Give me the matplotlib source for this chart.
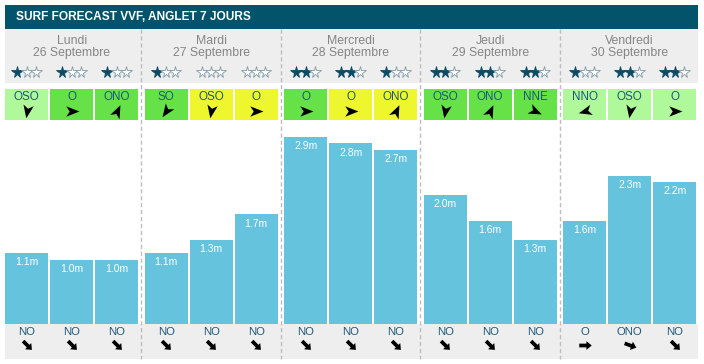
import matplotlib
matplotlib.use("Agg")
import matplotlib.pyplot as plt
from matplotlib.patches import Rectangle
from matplotlib.path import Path
from matplotlib.markers import MarkerStyle
from matplotlib.transforms import Affine2D

plt.rcParams['font.family'] = ['Liberation Sans', 'DejaVu Sans']

title = "SURF FORECAST VVF, ANGLET 7 JOURS"
days = ["Lundi", "Mardi", "Mercredi", "Jeudi", "Vendredi"]
dates = ["26 Septembre", "27 Septembre", "28 Septembre", "29 Septembre", "30 Septembre"]
stars = [[1, 1, 1], [1, 0, 0], [2, 2, 1], [2, 2, 2], [1, 2, 2]]
wind_dir = [["OSO", "O", "ONO"], ["SO", "OSO", "O"], ["O", "O", "ONO"],
            ["OSO", "ONO", "NNE"], ["NNO", "OSO", "O"]]
wind_level = [[0, 1, 1], [1, 2, 2], [1, 2, 2], [1, 1, 1], [0, 0, 0]]
wind_angle = [[-100, 0, 65], [-125, -100, 0], [0, 0, 65],
              [-100, 65, -25], [195, -100, 0]]
wave_height = [[1.1, 1.0, 1.0], [1.1, 1.3, 1.7], [2.9, 2.8, 2.7],
               [2.0, 1.6, 1.3], [1.6, 2.3, 2.2]]
swell_dir = [["NO", "NO", "NO"], ["NO", "NO", "NO"], ["NO", "NO", "NO"],
             ["NO", "NO", "NO"], ["O", "ONO", "NO"]]
swell_angle = {"NO": -45, "O": 0, "ONO": -20}

# ---- styling ----
TEAL = "#03546a"
GREY_BG = "#eeeeee"
BAR = "#65c3de"
TXT_BLUE = "#1f5878"
DAY_TXT = "#858585"
WIND_COLORS = ["#b0f99b", "#66e148", "#eef72e"]

W, H = 704, 364
X0, PERIOD, SLOT, BAR_W = 5, 139.5, 45, 43.3
BASE, TOP, PX_PER_M = 324, 120, 64.5


def slot_left(d, s):
    return X0 + d * PERIOD + s * SLOT


dart = Path([(1, 0), (-0.9, 0.75), (-0.4, 0), (-0.9, -0.75), (1, 0)],
            [Path.MOVETO, Path.LINETO, Path.LINETO, Path.LINETO, Path.CLOSEPOLY])
fat = Path([(-1, -0.3), (0.15, -0.3), (0.15, -0.7), (1, 0), (0.15, 0.7),
            (0.15, 0.3), (-1, 0.3), (-1, -0.3)],
           [Path.MOVETO] + [Path.LINETO] * 6 + [Path.CLOSEPOLY])

fig = plt.figure(figsize=(W / 100, H / 100), dpi=100)
ax = fig.add_axes([0, 0, 1, 1])
ax.set_xlim(0, W)
ax.set_ylim(H, 0)
ax.axis('off')

# title bar and grey bands
ax.add_patch(Rectangle((5, 5), 693, 24, color=TEAL, lw=0))
ax.text(16, 17, title, color='white', weight='bold', fontsize=8.6, va='center')
ax.add_patch(Rectangle((5, 29), 693, 54, color=GREY_BG, lw=0))
ax.add_patch(Rectangle((5, 324), 693, 35, color=GREY_BG, lw=0))

# dashed separators between days
for d in range(1, len(days)):
    xd = slot_left(d, 0) - 3.5
    ax.plot([xd, xd], [29, 359], color='#bdbdbd', lw=1, ls=(0, (3, 2)))

for d in range(len(days)):
    cx = slot_left(d, 0) + (2 * SLOT + BAR_W) / 2
    ax.text(cx, 40.5, days[d], ha='center', va='center', fontsize=8.8, color=DAY_TXT)
    ax.text(cx, 53, dates[d], ha='center', va='center', fontsize=8.8, color=DAY_TXT)
    for s in range(3):
        sx = slot_left(d, s) + BAR_W / 2
        # stars
        for k in range(3):
            filled = k < stars[d][s]
            ax.plot(sx + (k - 1) * 9.3, 71.5, marker='*', ms=8.5,
                    mfc='#0b4b66' if filled else 'white',
                    mec='#0b4b66' if filled else '#7d9aa6', mew=0.6)
        # wind box
        ax.add_patch(Rectangle((slot_left(d, s), 89), BAR_W, 30.5,
                               color=WIND_COLORS[wind_level[d][s]], lw=0))
        ax.text(sx, 97.5, wind_dir[d][s], ha='center', va='center',
                fontsize=8.4, color=TXT_BLUE)
        ax.plot(sx, 110.5, marker=MarkerStyle(dart, transform=Affine2D().rotate_deg(wind_angle[d][s])),
                ms=10, color='black', mew=0)
        # swell direction
        ax.text(sx, 332, swell_dir[d][s], ha='center', va='center',
                fontsize=8.2, color=TXT_BLUE)
        ax.plot(sx, 345, marker=MarkerStyle(fat, transform=Affine2D().rotate_deg(swell_angle[swell_dir[d][s]])),
                ms=9, color='black', mew=0)

# wave height bars
bx = fig.add_axes([0, (H - BASE) / H, 1, (BASE - TOP) / H])
bx.set_xlim(0, W)
bx.set_ylim(0, (BASE - TOP) / PX_PER_M)
bx.axis('off')
bx.patch.set_alpha(0)
for d in range(len(days)):
    for s in range(3):
        h = wave_height[d][s]
        xl = slot_left(d, s)
        bx.bar(xl, h, width=BAR_W, align='edge', color=BAR, lw=0)
        bx.annotate(f"{h:.1f}m", (xl + BAR_W / 2, h), xytext=(0, -6.6),
                    textcoords='offset points', ha='center', va='center',
                    fontsize=7.5, color='white')

fig.savefig("out.png", dpi=100)
